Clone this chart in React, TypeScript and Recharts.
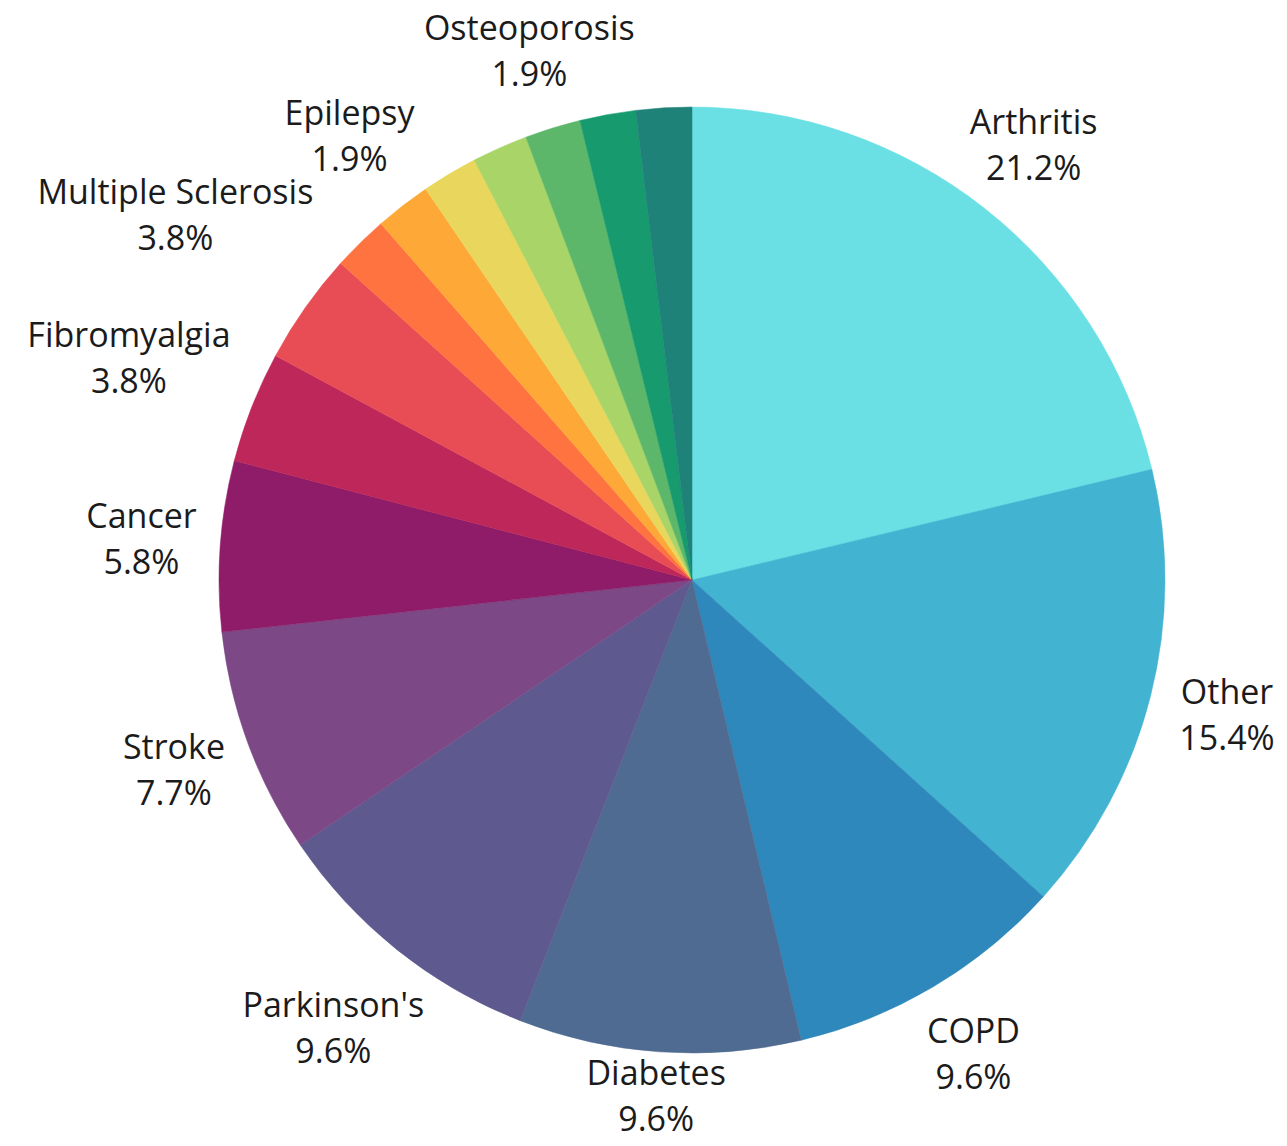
import { PieChart, Pie, Cell } from 'recharts';

const conditions = [
  'Arthritis',
  'Other',
  'COPD',
  'Diabetes',
  "Parkinson's",
  'Stroke',
  'Cancer',
  'Fibromyalgia',
  'Multiple Sclerosis',
  'Heart Disease',
  'Epilepsy',
  'Lupus',
  'Asthma',
  'Osteoporosis',
  "Crohn's",
  'Migraine',
];

const shares = [21.2, 15.4, 9.6, 9.6, 9.6, 7.7, 5.8, 3.8, 3.8, 1.9, 1.9, 1.9, 1.9, 1.9, 1.9, 1.9];

const colors = [
  '#6ae0e5',
  '#42b3d1',
  '#2e88bb',
  '#4f6b91',
  '#5e5a8f',
  '#7c4886',
  '#8e1c69',
  '#bd2759',
  '#e84d55',
  '#fe7340',
  '#fea838',
  '#e8d75c',
  '#a8d468',
  '#5db76a',
  '#169a6e',
  '#1e8278',
];

// only these slices show a label in the original
const labelled = new Set([
  'Arthritis',
  'Other',
  'COPD',
  'Diabetes',
  "Parkinson's",
  'Stroke',
  'Cancer',
  'Fibromyalgia',
  'Multiple Sclerosis',
  'Epilepsy',
  'Osteoporosis',
]);

// distance of each label from the pie centre, nudged where labels crowd
const labelRadius: Record<string, number> = {
  Diabetes: 518,
  "Parkinson's": 575,
  Fibromyalgia: 605,
  'Multiple Sclerosis': 632,
  Epilepsy: 560,
};

const data = conditions.map((name, i) => ({ name, value: shares[i] }));

const RADIAN = Math.PI / 180;

function renderLabel(props: any) {
  const { cx, cy, midAngle, name, value } = props;
  if (!labelled.has(name)) return null;
  const r = labelRadius[name] ?? 552;
  const x = cx + r * Math.cos(-midAngle * RADIAN);
  const y = cy + r * Math.sin(-midAngle * RADIAN);
  return (
    <text
      x={x}
      y={y}
      textAnchor="middle"
      fill="#1b1b1b"
      fontSize={34}
      fontFamily="'Open Sans', sans-serif"
    >
      <tspan x={x} y={y - 25} dominantBaseline="central">
        {name}
      </tspan>
      <tspan x={x} y={y + 21} dominantBaseline="central">
        {value.toFixed(1)}%
      </tspan>
    </text>
  );
}

export default function App() {
  return (
    <div style={{ width: 1287, height: 1146, background: '#fff' }}>
      <style>{'body{margin:0}'}</style>
      <PieChart width={1287} height={1146} margin={{ top: 0, right: 0, bottom: 0, left: 0 }}>
        <Pie
          data={data}
          dataKey="value"
          nameKey="name"
          cx={692}
          cy={580}
          outerRadius={473}
          startAngle={90}
          endAngle={-270}
          label={renderLabel}
          labelLine={false}
          isAnimationActive={false}
        >
          {data.map((d, i) => (
            <Cell key={d.name} fill={colors[i]} stroke={colors[i]} strokeWidth={0.5} />
          ))}
        </Pie>
      </PieChart>
    </div>
  );
}
